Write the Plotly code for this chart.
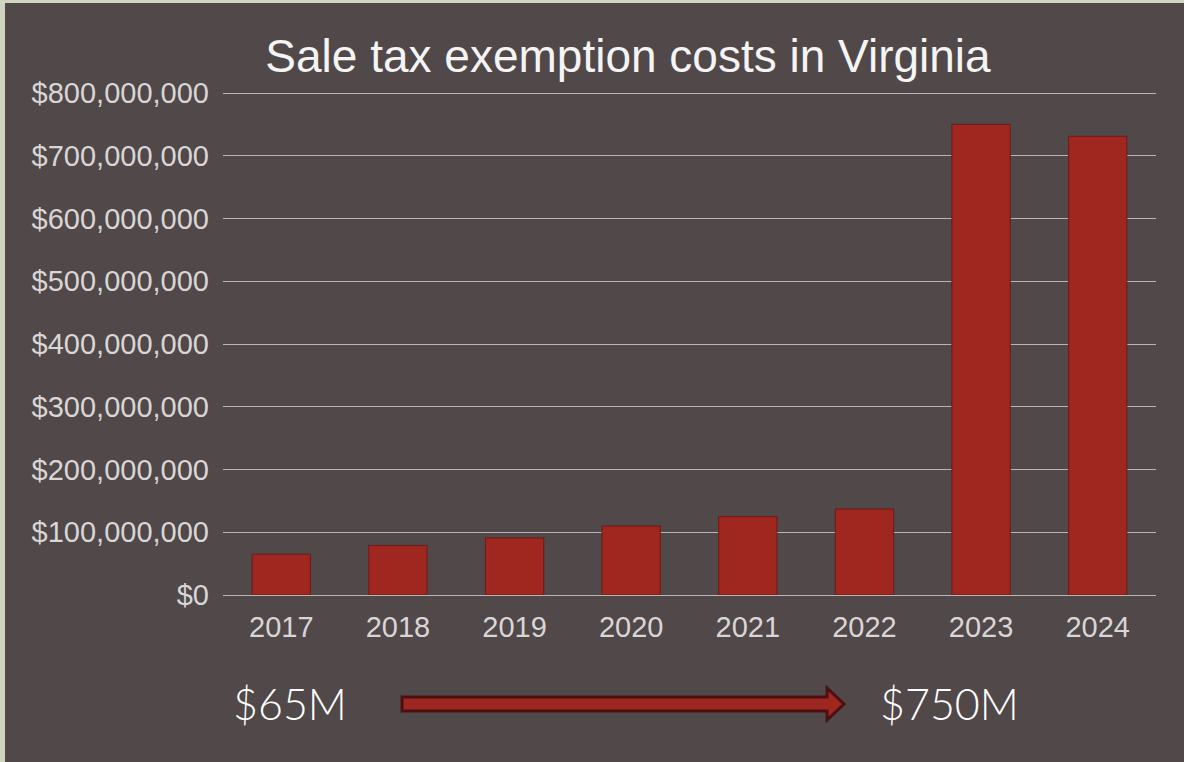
import plotly.graph_objects as go

years = ["2017", "2018", "2019", "2020", "2021", "2022", "2023", "2024"]
costs = [65e6, 79e6, 91e6, 110e6, 125e6, 137e6, 750e6, 731e6]
y_ticks = [0, 100e6, 200e6, 300e6, 400e6, 500e6, 600e6, 700e6, 800e6]
y_labels = ["$0", "$100,000,000", "$200,000,000", "$300,000,000", "$400,000,000",
            "$500,000,000", "$600,000,000", "$700,000,000", "$800,000,000"]
start_label = "$65M"
end_label = "$750M"

W, H = 1184, 762
ML, MR, MT, MB = 223, 28, 87, 167
PW, PH = W - ML - MR, H - MT - MB
Y_TOP = 800e6 * PH / 502  # 800M gridline sits at y=93, a bit below the plot top
BG = "#504849"
BORDER = "#d0d5bf"
SANS = "Liberation Sans"


def px_x(p):
    return (p - ML) / PW


def px_y(p):
    return (H - MB - p) / PH


fig = go.Figure(go.Bar(
    x=years, y=costs,
    marker=dict(color="#a0271f", line=dict(color="#6e1a16", width=1)),
    hoverinfo="x+y",
))

# block arrow between the two labels
pts = [(402, 697), (827, 697), (827, 688), (844, 704), (827, 720), (827, 711), (402, 711)]
path = "M " + " L ".join(f"{px_x(a):.4f},{px_y(b):.4f}" for a, b in pts) + " Z"

fig.update_layout(
    width=W, height=H,
    margin=dict(l=ML, r=MR, t=MT, b=MB),
    paper_bgcolor=BORDER,
    plot_bgcolor="rgba(0,0,0,0)",
    bargap=0.5,
    showlegend=False,
    font=dict(family=SANS, color="#d8d6d6"),
    title=dict(text="Sale tax exemption costs in Virginia", x=px_x(628), xref="paper",
               xanchor="center", y=1 - 56 / H, yanchor="middle",
               font=dict(family=SANS, size=46, color="#f4f4f4")),
    shapes=[
        dict(type="rect", xref="paper", yref="paper", layer="below",
             x0=px_x(5), x1=px_x(W + 10), y0=px_y(H + 10), y1=px_y(3),
             fillcolor=BG, line=dict(width=0)),
        dict(type="path", xref="paper", yref="paper", path=path,
             fillcolor="#a0271f", line=dict(color="#4a1111", width=3)),
    ],
    annotations=[
        dict(text=start_label, xref="paper", yref="paper", x=px_x(290), y=px_y(703),
             showarrow=False, xanchor="center", yanchor="middle",
             font=dict(family="Lato", size=43, color="#ffffff", weight=300)),
        dict(text=end_label, xref="paper", yref="paper", x=px_x(949), y=px_y(703),
             showarrow=False, xanchor="center", yanchor="middle",
             font=dict(family="Lato", size=43, color="#ffffff", weight=300)),
    ],
)

fig.update_yaxes(range=[0, Y_TOP], tickvals=y_ticks, ticktext=y_labels,
                 showgrid=True, gridcolor="#b9b5b5", gridwidth=1,
                 zeroline=True, zerolinecolor="#b9b5b5", zerolinewidth=1,
                 showline=False, ticks="", ticklabelstandoff=13,
                 tickfont=dict(family=SANS, size=29, color="#d8d6d6"))
fig.update_xaxes(showgrid=False, showline=False, ticks="", ticklabelstandoff=12,
                 tickfont=dict(family=SANS, size=29, color="#d8d6d6"))

fig.write_html("out.html", config={"displayModeBar": False},
               post_script="document.body.style.margin='0';")
